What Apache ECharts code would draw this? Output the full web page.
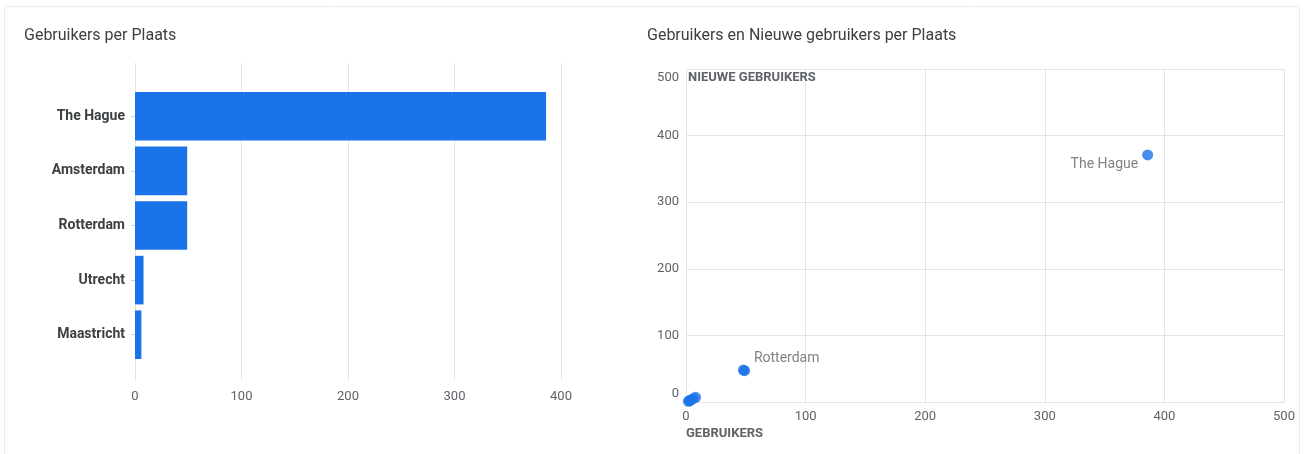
<!DOCTYPE html>
<html><head><meta charset="utf-8">
<script src="https://cdn.jsdelivr.net/npm/echarts@6/dist/echarts.min.js"></script>
<style>html,body{margin:0;padding:0;background:#fff}#c{width:1306px;height:454px}</style>
</head><body><div id="c"></div>
<script>
// Left chart: Gebruikers per Plaats
const barCities = ['The Hague', 'Amsterdam', 'Rotterdam', 'Utrecht', 'Maastricht'];
const barUsers = [386, 49, 49, 8, 6];
const barTicks = [0, 100, 200, 300, 400];

// Right chart: Gebruikers en Nieuwe gebruikers per Plaats
const scatterCities = ['The Hague', 'Amsterdam', 'Rotterdam', 'Utrecht', 'Maastricht', 'Leiden', 'Delft', 'Zoetermeer'];
const scatterUsers = [386, 49, 48, 8, 6, 4, 2, 3];
const scatterNew = [371, 47, 48, 7, 5, 3, 1, 2];
const labelledCities = ['The Hague', 'Rotterdam'];
const scatterTicks = [0, 100, 200, 300, 400, 500];

const txt = '#3c4043', sub = '#5f6368', grid = '#e3e3e3', blue = '#1a73e8';
const font = 'Roboto, "Noto Sans", sans-serif';

const scatterData = scatterCities.map((c, i) => {
  const item = { name: c, value: [scatterUsers[i], scatterNew[i]] };
  if (labelledCities.includes(c)) {
    item.label = c === 'The Hague'
      ? { show: true, position: 'left', offset: [0, 10], distance: 4 }
      : { show: true, position: 'right', offset: [0, -12], distance: 5 };
  }
  return item;
});

const yMin = scatterTicks[0], yMax = scatterTicks[scatterTicks.length - 1];

const chart = echarts.init(document.getElementById('c'), null, { renderer: 'canvas' });
chart.setOption({
  animation: false,
  textStyle: { fontFamily: font },
  graphic: [
    { type: 'rect', silent: true, z: -10, shape: { x: 4.5, y: 6.5, width: 1295, height: 460 },
      style: { fill: 'none', stroke: '#ececec', lineWidth: 1 } }
  ],
  title: [
    { text: 'Gebruikers per Plaats', left: 19, top: 23, textStyle: { fontSize: 16, fontWeight: 'normal', color: txt, fontFamily: font } },
    { text: 'Gebruikers en Nieuwe gebruikers per Plaats', left: 642, top: 23, textStyle: { fontSize: 16, fontWeight: 'normal', color: txt, fontFamily: font } }
  ],
  grid: [
    { left: 135, top: 63, width: 426, height: 317 },
    { left: 135, top: 89, width: 426, height: 273 },
    { left: 686, top: 69, width: 598, height: 333 }
  ],
  xAxis: [
    { gridIndex: 0, type: 'value', min: barTicks[0], max: barTicks[barTicks.length - 1], interval: 100,
      axisLine: { show: false }, axisTick: { show: false },
      axisLabel: { color: sub, fontSize: 13, margin: 10 },
      splitLine: { lineStyle: { color: grid, width: 1 } } },
    { gridIndex: 1, type: 'value', min: barTicks[0], max: barTicks[barTicks.length - 1], show: false, splitLine: { show: false } },
    { gridIndex: 2, type: 'value', min: yMin, max: yMax, interval: 100,
      axisLine: { show: false }, axisTick: { show: false },
      axisLabel: { color: sub, fontSize: 13, margin: 8 },
      splitLine: { lineStyle: { color: grid, width: 1 } },
      name: 'GEBRUIKERS', nameLocation: 'start', nameGap: 0,
      nameTextStyle: { fontSize: 13, fontWeight: 'bold', color: sub, align: 'left', verticalAlign: 'top', padding: [25, 0, 0, 0] } }
  ],
  yAxis: [
    { gridIndex: 0, type: 'value', show: false, splitLine: { show: false } },
    { gridIndex: 1, type: 'category', inverse: true, data: barCities,
      axisLine: { show: false },
      axisTick: { show: true, alignWithLabel: true, length: 4, lineStyle: { color: '#d0d0d0' } },
      axisLabel: { color: txt, fontSize: 14, fontWeight: 'bold', margin: 10 } },
    { gridIndex: 2, type: 'value', min: yMin, max: yMax, interval: 100,
      axisLine: { show: false }, axisTick: { show: false },
      axisLabel: { color: sub, fontSize: 13, margin: 7,
        formatter: v => v === yMax ? '{t|' + v + '}' : (v === yMin ? '{b|' + v + '}' : String(v)),
        rich: { t: { color: sub, fontSize: 13, padding: [17, 0, 0, 0] }, b: { color: sub, fontSize: 13, padding: [0, 0, 17, 0] } } },
      splitLine: { lineStyle: { color: grid, width: 1 } },
      name: 'NIEUWE GEBRUIKERS', nameLocation: 'end', nameGap: -2,
      nameTextStyle: { fontSize: 13, fontWeight: 'bold', color: sub, align: 'left', verticalAlign: 'top', padding: [0, 0, 0, 2] } }
  ],
  series: [
    { type: 'bar', xAxisIndex: 1, yAxisIndex: 1, data: barUsers, barCategoryGap: '11%',
      itemStyle: { color: blue } },
    { type: 'scatter', xAxisIndex: 2, yAxisIndex: 2, data: scatterData, symbolSize: 11,
      itemStyle: { color: blue, opacity: 0.8 },
      label: { color: sub, fontSize: 14, formatter: p => p.name } }
  ]
});
</script></body></html>
